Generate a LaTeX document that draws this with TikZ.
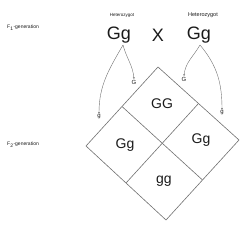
\documentclass[tikz,border=0pt]{standalone}
\usepackage{fontspec}
\setmainfont{Liberation Sans}
\usetikzlibrary{arrows.meta, calc}
\definecolor{ink}{HTML}{1A1A1A}
\definecolor{wire}{HTML}{707070}

\begin{document}
\begin{tikzpicture}[
  x=1pt, y=-1pt,
  tiny/.style={font=\fontsize{4.5}{5}\selectfont, text=ink, inner sep=0pt},
  gen/.style={font=\fontsize{5}{6}\selectfont, text=ink, inner sep=0pt, anchor=west},
  parent/.style={font=\fontsize{18}{20}\selectfont, text=ink, inner sep=1pt},
  allele/.style={font=\fontsize{6}{7}\selectfont, text=ink, inner sep=0.5pt},
  cell/.style={font=\fontsize{14}{16}\selectfont, text=ink, inner sep=0pt},
  arr/.style={-{Stealth[length=2.2pt, width=1.8pt]}, draw=wire, thin},
  grid/.style={draw=wire, line width=0.6pt}
]
\useasboundingbox (0,0) rectangle (250,225);

% generation labels
\node[gen] (f1) at (7,28) {F\textsubscript{1}-generation};
\node[gen] (f2) at (7,145) {F\textsubscript{2}-generation};

% parents
\node[tiny] (het1) at (122,15) {Heterozygot};
\node[tiny, font=\fontsize{5.5}{6}\selectfont] (het2) at (203,15) {Heterozygot};
\node[parent] (p1) at (119,35) {Gg};
\node[parent] (cross) at (158,35) {X};
\node[parent] (p2) at (199,35) {Gg};
\coordinate (s1) at (123,45);
\coordinate (s2) at (200,45);

% gametes
\node[allele] (gA) at (134,82) {G};
\node[allele] (ga) at (99,117) {g};
\node[allele] (gB) at (184,79) {G};
\node[allele] (gb) at (222,113) {g};

\draw[arr] (s1) to[out=-75, in=95] (gA.north);
\draw[arr] (s1) to[out=-120, in=90] (ga.north);
\draw[arr] (s2) to[out=-120, in=85] (gB.north);
\draw[arr] (s2) to[out=-50, in=90] (gb.north);

% punnett square
\coordinate (T) at (158,67);
\coordinate (R) at (239,140);
\coordinate (B) at (166,220);
\coordinate (L) at (86,146);
\draw[grid] (T) -- (R) -- (B) -- (L) -- cycle;
\draw[grid] ($(T)!0.5!(L)$) -- ($(R)!0.5!(B)$);
\draw[grid] ($(T)!0.5!(R)$) -- ($(L)!0.5!(B)$);

\node[cell] (GG) at (162,104) {GG};
\node[cell] (Gg1) at (125,145) {Gg};
\node[cell] (Gg2) at (201,140) {Gg};
\node[cell] (gg) at (164,181) {gg};
\end{tikzpicture}
\end{document}
